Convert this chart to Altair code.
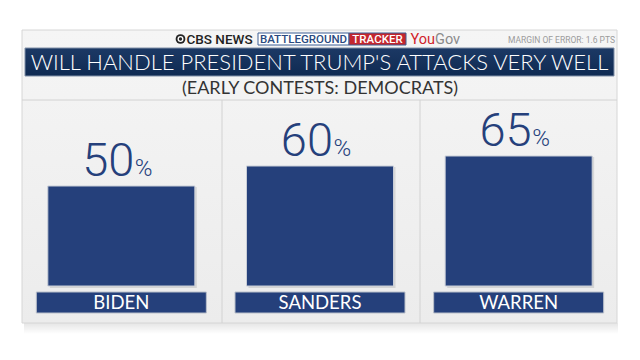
import altair as alt
import pandas as pd

# ---- data ----
candidates = ["BIDEN", "SANDERS", "WARREN"]
values = [50, 60, 65]
title_text = "WILL HANDLE PRESIDENT TRUMP'S ATTACKS VERY WELL"
subtitle_text = "(EARLY CONTESTS: DEMOCRATS)"
margin_text = "MARGIN OF ERROR: 1.6 PTS"

df = pd.DataFrame({"name": candidates, "value": values})
one = pd.DataFrame({"k": [0]})

NAVY = "#25407b"
OFF = 8  # page margin


def box(x1, x2, y1, y2, **kw):
    return alt.Chart(one).mark_rect(**kw).encode(
        x=alt.value(x1 - OFF), x2=alt.value(x2 - OFF),
        y=alt.value(y1 - OFF), y2=alt.value(y2 - OFF))


def txt(s, xx, yy, **kw):
    return alt.Chart(one).mark_text(text=s, **kw).encode(
        x=alt.value(xx - OFF), y=alt.value(yy - OFF))


def hrule(x1, x2, yy, **kw):
    return alt.Chart(one).mark_rule(**kw).encode(
        x=alt.value(x1 - OFF), x2=alt.value(x2 - OFF), y=alt.value(yy - OFF))


def vrule(xx, y1, y2, **kw):
    return alt.Chart(one).mark_rule(**kw).encode(
        x=alt.value(xx - OFF), y=alt.value(y1 - OFF), y2=alt.value(y2 - OFF))


def vgrad(c1, c2):
    return alt.Gradient(gradient="linear",
                        stops=[alt.GradientStop(color=c1, offset=0),
                               alt.GradientStop(color=c2, offset=1)],
                        x1=0, x2=0, y1=0, y2=1)


# decorations
shadow = box(24, 618, 323, 334, fill=vgrad("rgba(0,0,0,0.10)", "rgba(0,0,0,0)"), strokeWidth=0)
card = box(22, 617, 30, 323, fill=vgrad("#f5f5f5", "#ececec"), stroke="#d6d6d6", strokeWidth=1)
banner = box(25, 614, 48, 76, fill=vgrad("#1c3965", "#0f2a52"), stroke="#8090a8", strokeWidth=1)
sep = hrule(22, 617, 100, color="#d2d2d2", strokeWidth=1)
div1 = vrule(222, 100, 323, color="#d2d2d2", strokeWidth=1)
div2 = vrule(420, 100, 323, color="#d2d2d2", strokeWidth=1)

# header logos
eye1 = alt.Chart(one).mark_point(filled=True, shape="circle", size=95, color="#222222", opacity=1).encode(
    x=alt.value(180.5 - OFF), y=alt.value(39 - OFF))
eye2 = alt.Chart(one).mark_point(filled=True, shape="circle", size=36, color="#ffffff", opacity=1).encode(
    x=alt.value(180.5 - OFF), y=alt.value(39 - OFF))
eye3 = alt.Chart(one).mark_point(filled=True, shape="circle", size=11, color="#222222", opacity=1).encode(
    x=alt.value(180.5 - OFF), y=alt.value(39 - OFF))
cbs = txt("CBS NEWS", 186.5, 39.5, align="left", baseline="middle", font="Roboto",
          fontSize=13.5, fontWeight=500, color="#222222")
bg_box = box(258, 349, 33, 45, fill="#ffffff", stroke="#3d5f94", strokeWidth=1)
bg_txt = txt("BATTLEGROUND", 303.5, 39.5, align="center", baseline="middle", font="Roboto",
             fontSize=11.5, fontWeight=500, color="#2a4a80")
tr_box = box(349, 406, 33, 45, fill="#c4262e", stroke="#3d5f94", strokeWidth=1)
tr_txt = txt("TRACKER", 377.5, 39.5, align="center", baseline="middle", font="Roboto",
             fontSize=11.5, fontWeight=500, color="#ffffff")
you = txt("You", 435, 39.5, align="right", baseline="middle", font="Roboto",
          fontSize=14.5, color="#d1232a")
gov = txt("Gov", 435, 39.5, align="left", baseline="middle", font="Roboto",
          fontSize=14.5, color="#8a8a8a")
moe = txt(margin_text, 615, 39.5, align="right", baseline="middle", font="Roboto",
          fontSize=8.5, color="#9b9b9b")

title = txt(title_text, 319.5, 62.5, align="center", baseline="middle", font="Lato",
            fontSize=22, fontWeight=300, color="#ffffff")
subtitle = txt(subtitle_text, 320, 88.5, align="center", baseline="middle", font="Lato",
               fontSize=18, color="#333333")

# data-driven marks
x = alt.X("name:N", sort=candidates,
          scale=alt.Scale(domain=candidates, range=[14, 610], paddingInner=0.26, paddingOuter=0.13),
          axis=None)
y = alt.Y("value:Q", scale=alt.Scale(domain=[0, 100], range=[278, 78]), axis=None)

base = alt.Chart(df)
bar_shadow = base.mark_bar(color="#000000", opacity=0.10, xOffset=2, yOffset=1, y2Offset=2).encode(
    x=x, y=y, y2=alt.datum(0))
bars = base.mark_bar(color=NAVY, stroke="#c9ced8", strokeWidth=1).encode(x=x, y=y, y2=alt.datum(0))
lab_box = base.mark_bar(width=170, color=NAVY, stroke="#b9bfca", strokeWidth=1).encode(
    x=x, y=alt.value(292 - OFF), y2=alt.value(313 - OFF))
lab_txt = base.mark_text(font="Lato", fontSize=18.5, fontWeight=400, color="#ffffff", baseline="middle").encode(
    x=x, y=alt.value(303 - OFF), text="name:N")
num = base.mark_text(font="Roboto", fontWeight=300, fontSize=47, color=NAVY, align="right",
                     baseline="alphabetic", dx=13, dy=-10).encode(x=x, y=y, text="value:Q")
pct = base.mark_text(font="Roboto", fontWeight=300, fontSize=24, color=NAVY, align="left",
                     baseline="alphabetic", dx=13.5, dy=-10).encode(x=x, y=y, text=alt.value("%"))

chart = alt.layer(
    shadow, card, banner, sep, div1, div2,
    eye1, eye2, eye3, cbs, bg_box, bg_txt, tr_box, tr_txt, you, gov, moe,
    title, subtitle,
    bar_shadow, bars, lab_box, lab_txt, num, pct,
).properties(
    width=624, height=344, autosize="none", padding=0, background="#ffffff"
).configure_view(stroke=None)

chart.save("out.html", embed_options={"renderer": "svg", "actions": False})
